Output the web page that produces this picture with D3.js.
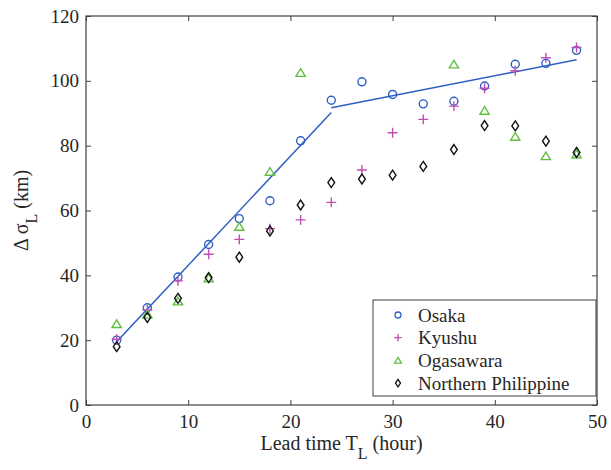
<!DOCTYPE html>
<html>
<head>
<meta charset="UTF-8">
<script src="https://d3js.org/d3.v7.min.js"></script>
</head>
<body style="margin:0; background:#fff">
<svg id="chart" width="611" height="470"></svg>
<script>
// data
const leadTime = [3, 6, 9, 12, 15, 18, 21, 24, 27, 30, 33, 36, 39, 42, 45, 48];
const osaka = [20, 30, 39.5, 49.5, 57.5, 63, 81.5, 94, 99.7, 95.8, 92.9, 93.7, 98.4, 105.1, 105.4, 109.4];
const kyushu = [20.3, 29.3, 38.3, 46.5, 51.1, 54.4, 57.1, 62.5, 72.5, 84, 88.1, 92.2, 97.7, 103.1, 107.1, 110.3];
const ogasawara = [25, 28, 32, 39.1, 55, 72, 102.5, null, null, null, null, 105.1, 90.8, 82.8, 76.8, 77.4];
const northPhil = [18, 27, 32.9, 39.3, 45.6, 53.7, 61.7, 68.6, 69.7, 70.9, 73.6, 78.8, 86.2, 86.1, 81.4, 77.9];
// piecewise fit for Osaka
const fit1X = [3, 24], fit1Y = [19.5, 90.2];
const fit2X = [24, 48], fit2Y = [91.7, 106.5];
const xTicks = [0, 10, 20, 30, 40, 50];
const yTicks = [0, 20, 40, 60, 80, 100, 120];

const seriesNames = ["Osaka", "Kyushu", "Ogasawara", "Northern Philippine"];
const seriesVals = [osaka, kyushu, ogasawara, northPhil];
const colors = ["#2f5fc4", "#c04fb4", "#5fbf3f", "#111111"];
const shapes = ["circle", "plus", "triangle", "diamond"];

const FONT = "'Liberation Serif'";
const TXT = "#262626";

const svg = d3.select("#chart");
const margin = { top: 16, right: 14, bottom: 65, left: 86 };
const width = 611 - margin.left - margin.right;
const height = 470 - margin.top - margin.bottom;

const x = d3.scaleLinear().domain([0, 50]).range([0, width]);
const y = d3.scaleLinear().domain([0, 120]).range([height, 0]);

const g = svg.append("g").attr("transform", `translate(${margin.left},${margin.top})`);

// marker path generator (centered at 0,0)
function marker(shape, s) {
    if (shape === "circle") {
        const r = s * 0.5;
        return `M${r},0A${r},${r},0,1,1,${-r},0A${r},${r},0,1,1,${r},0Z`;
    }
    if (shape === "plus") {
        const h = s * 0.62;
        return `M${-h},0H${h}M0,${-h}V${h}`;
    }
    if (shape === "triangle") {
        const w = s * 0.58, t = s * 0.5;
        return `M0,${-t}L${w},${t * 0.9}L${-w},${t * 0.9}Z`;
    }
    const w = s * 0.42, t = s * 0.62;
    return `M0,${-t}L${w},0L0,${t}L${-w},0Z`;
}

// every text gets the serif face inline, with priority
function serif(sel, size) {
    return sel.attr("font-family", FONT)
        .style("font-family", FONT, "important")
        .attr("font-size", size)
        .style("font-size", size + "px")
        .attr("fill", TXT);
}

// axes: ticks pointing inward, box on all sides
const axisColor = "#404040";
const tickLen = 5;

const xAxis = g.append("g")
    .attr("transform", `translate(0,${height})`)
    .call(d3.axisBottom(x).tickValues(xTicks).tickSizeInner(-tickLen).tickSizeOuter(0).tickPadding(10));
xAxis.selectAll("text").attr("dy", "0.71em");

const yAxis = g.append("g")
    .call(d3.axisLeft(y).tickValues(yTicks).tickSizeInner(-tickLen).tickSizeOuter(0).tickPadding(7));

g.append("g")
    .call(d3.axisTop(x).tickValues(xTicks).tickSizeInner(-tickLen).tickSizeOuter(0).tickFormat(""));

g.append("g")
    .attr("transform", `translate(${width},0)`)
    .call(d3.axisRight(y).tickValues(yTicks).tickSizeInner(-tickLen).tickSizeOuter(0).tickFormat(""));

g.selectAll("g").attr("font-family", FONT);
g.selectAll(".domain").remove();
g.selectAll(".tick line").attr("stroke", axisColor);
serif(g.selectAll(".tick text"), 19);

g.append("rect")
    .attr("width", width).attr("height", height)
    .attr("fill", "none").attr("stroke", axisColor).attr("stroke-width", 1.2);

// fit lines
const line = d3.line().x(d => x(d[0])).y(d => y(d[1]));
[[fit1X, fit1Y], [fit2X, fit2Y]].forEach(([fx, fy]) => {
    g.append("path")
        .attr("d", line(fx.map((v, i) => [v, fy[i]])))
        .attr("fill", "none")
        .attr("stroke", "#2f5fc4")
        .attr("stroke-width", 1.5);
});

// scatter markers
seriesVals.forEach((vals, si) => {
    const pts = leadTime.map((t, i) => [t, vals[i]]).filter(d => d[1] !== null);
    g.selectAll(null)
        .data(pts)
        .enter().append("path")
        .attr("transform", d => `translate(${x(d[0])},${y(d[1])})`)
        .attr("d", marker(shapes[si], 8))
        .attr("fill", "none")
        .attr("stroke", colors[si])
        .attr("stroke-width", 1.4);
});

// legend
const lgX = 373 - margin.left, lgY = 300 - margin.top;
const lgW = width - lgX - 1, lgH = 96;
const lg = g.append("g").attr("transform", `translate(${lgX},${lgY})`);
lg.append("rect")
    .attr("width", lgW).attr("height", lgH)
    .attr("fill", "#fff").attr("stroke", axisColor).attr("stroke-width", 1);
seriesNames.forEach((name, i) => {
    const ry = 15 + i * 22.7;
    lg.append("path")
        .attr("transform", `translate(25,${ry})`)
        .attr("d", marker(shapes[i], 6))
        .attr("fill", "none")
        .attr("stroke", colors[i])
        .attr("stroke-width", 1.3);
    serif(lg.append("text"), 19)
        .attr("x", 45).attr("y", ry)
        .attr("dy", "0.35em")
        .text(name);
});

// axis labels
const xl = serif(svg.append("text"), 20)
    .attr("x", margin.left + width / 2)
    .attr("y", 450)
    .attr("text-anchor", "middle");
xl.append("tspan").text("Lead time T");
xl.append("tspan").attr("dy", 9).style("font-size", "16px").text("L");
xl.append("tspan").attr("dy", -9).text(" (hour)");

const yl = serif(svg.append("text"), 20)
    .attr("transform", `translate(28,${margin.top + height / 2}) rotate(-90)`)
    .attr("text-anchor", "middle");
yl.append("tspan").text("\u0394 \u03c3");
yl.append("tspan").attr("dy", 9).style("font-size", "16px").text("L");
yl.append("tspan").attr("dy", -9).text(" (km)");
</script>
</body>
</html>
